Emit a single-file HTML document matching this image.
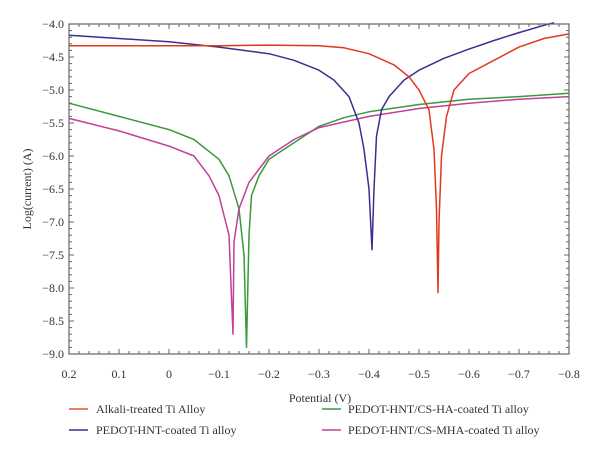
<!DOCTYPE html>
<html><head><meta charset="utf-8"><style>
body{margin:0;background:#fff;}
svg text{font-family:"Liberation Serif",serif;fill:#333;}
</style></head><body>
<svg id="chart" width="600" height="457" viewBox="0 0 600 457" xmlns="http://www.w3.org/2000/svg">
<g id="grid"></g><g id="series"></g><g id="axes"></g>
<text x="320" y="402" font-size="12" text-anchor="middle">Potential (V)</text>
<text transform="translate(31,189) rotate(-90)" font-size="12" text-anchor="middle">Log(current) (A)</text>
<g font-size="12">
<g><line x1="69" y1="409" x2="88" y2="409" stroke="#e8542f" stroke-width="1.5"/><text x="96" y="413">Alkali-treated Ti Alloy</text></g>
<g><line x1="69" y1="430" x2="88" y2="430" stroke="#3a2f8f" stroke-width="1.5"/><text x="96" y="434">PEDOT-HNT-coated Ti alloy</text></g>
<g><line x1="322" y1="409" x2="341" y2="409" stroke="#3a9a3a" stroke-width="1.5"/><text x="348" y="413">PEDOT-HNT/CS-HA-coated Ti alloy</text></g>
<g><line x1="322" y1="430" x2="341" y2="430" stroke="#c0409a" stroke-width="1.5"/><text x="348" y="434">PEDOT-HNT/CS-MHA-coated Ti alloy</text></g>
</g>
</svg>
<script>
const xTicks=[0.2,0.1,0,-0.1,-0.2,-0.3,-0.4,-0.5,-0.6,-0.7,-0.8];
const xTickLabels=["0.2","0.1","0","−0.1","−0.2","−0.3","−0.4","−0.5","−0.6","−0.7","−0.8"];
const yTicks=[-4.0,-4.5,-5.0,-5.5,-6.0,-6.5,-7.0,-7.5,-8.0,-8.5,-9.0];
const yTickLabels=["−4.0","−4.5","−5.0","−5.5","−6.0","−6.5","−7.0","−7.5","−8.0","−8.5","−9.0"];
const redV=[0.2,0.1,0,-0.1,-0.2,-0.3,-0.35,-0.4,-0.45,-0.48,-0.5,-0.52,-0.53,-0.535,-0.538,-0.54,-0.545,-0.555,-0.57,-0.6,-0.65,-0.7,-0.75,-0.8];
const redL=[-4.33,-4.33,-4.33,-4.33,-4.32,-4.33,-4.36,-4.45,-4.62,-4.8,-5.0,-5.3,-5.9,-6.8,-8.07,-7.0,-6.0,-5.4,-5.0,-4.75,-4.55,-4.35,-4.22,-4.15];
const blueV=[0.2,0.1,0,-0.1,-0.2,-0.25,-0.3,-0.33,-0.36,-0.38,-0.39,-0.4,-0.406,-0.41,-0.415,-0.425,-0.44,-0.47,-0.5,-0.55,-0.6,-0.65,-0.7,-0.75,-0.77];
const blueL=[-4.17,-4.22,-4.27,-4.35,-4.45,-4.55,-4.7,-4.85,-5.1,-5.5,-5.9,-6.5,-7.42,-6.5,-5.7,-5.3,-5.1,-4.85,-4.7,-4.52,-4.38,-4.25,-4.13,-4.02,-3.98];
const greenV=[0.2,0.1,0,-0.05,-0.1,-0.12,-0.14,-0.15,-0.155,-0.16,-0.165,-0.18,-0.2,-0.25,-0.3,-0.35,-0.4,-0.5,-0.6,-0.7,-0.8];
const greenL=[-5.2,-5.4,-5.6,-5.75,-6.05,-6.3,-6.8,-7.5,-8.9,-7.2,-6.6,-6.3,-6.05,-5.8,-5.55,-5.42,-5.33,-5.22,-5.14,-5.1,-5.05];
const magV=[0.2,0.1,0,-0.05,-0.08,-0.1,-0.12,-0.128,-0.13,-0.14,-0.16,-0.2,-0.25,-0.3,-0.4,-0.5,-0.6,-0.7,-0.8];
const magL=[-5.43,-5.62,-5.85,-6.0,-6.3,-6.6,-7.2,-8.7,-7.3,-6.8,-6.4,-6.0,-5.75,-5.57,-5.4,-5.28,-5.2,-5.14,-5.1];

const X0=69,X1=569,Y0=24,Y1=354;
const xs=v=>X0+(0.2-v)/1.0*(X1-X0);
const ys=l=>Y0+(-4-l)/5*(Y1-Y0);
const NS="http://www.w3.org/2000/svg";
function mk(tag,attrs,parent){const e=document.createElementNS(NS,tag);for(const k in attrs)e.setAttribute(k,attrs[k]);parent.appendChild(e);return e;}
const axes=document.getElementById('axes'),series=document.getElementById('series');
const frame=mk('rect',{x:X0,y:Y0,width:X1-X0,height:Y1-Y0,fill:'none',stroke:'#666','stroke-width':1.2},axes);


// minor & major ticks
for(let i=0;i<=50;i++){const x=X0+i*(X1-X0)/50;const len=i%5===0?5:3;
 mk('line',{x1:x,y1:Y1,x2:x,y2:Y1-len,stroke:'#666'},axes);
 mk('line',{x1:x,y1:Y0,x2:x,y2:Y0+len,stroke:'#666'},axes);}
for(let i=0;i<=50;i++){const y=Y0+i*(Y1-Y0)/50;const len=i%5===0?5:3;
 mk('line',{x1:X0,y1:y,x2:X0+len,y2:y,stroke:'#666'},axes);
 mk('line',{x1:X1,y1:y,x2:X1-len,y2:y,stroke:'#666'},axes);}
xTicks.forEach((v,i)=>{const t=mk('text',{x:xs(v),y:Y1+24,'font-size':12,'text-anchor':'middle'},axes);t.textContent=xTickLabels[i];
 
 });
yTicks.forEach((v,i)=>{const t=mk('text',{x:X0-5,y:ys(v)+4,'font-size':12,'text-anchor':'end'},axes);t.textContent=yTickLabels[i];
 
 });
function line(V,L,color,name){const d=V.map((v,i)=>(i?'L':'M')+xs(v).toFixed(1)+','+ys(L[i]).toFixed(1)).join('');
 const p=mk('path',{d:d,fill:'none',stroke:color,'stroke-width':1.5,'stroke-linejoin':'round'},series);
 
 }
line(greenV,greenL,'#3a9a3a','series-cs-ha');
line(magV,magL,'#c0409a','series-cs-mha');
line(blueV,blueL,'#3a2f8f','series-pedot-hnt');
line(redV,redL,'#e03a1a','series-alkali');
</script>
</body></html>
